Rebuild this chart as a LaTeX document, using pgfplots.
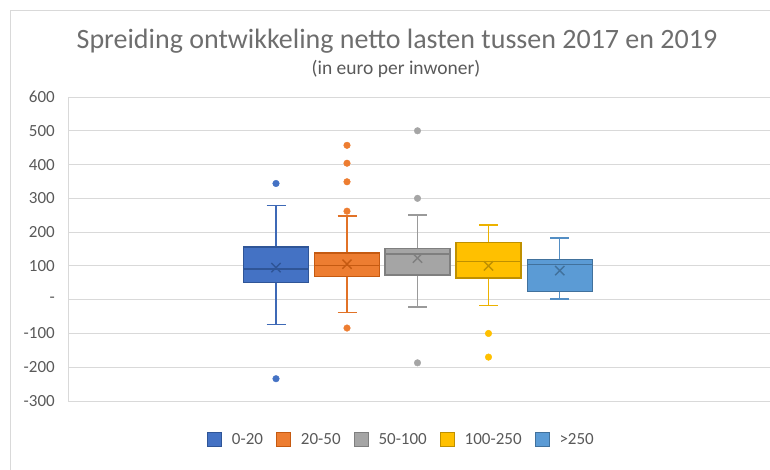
\documentclass[border=0pt]{standalone}
\usepackage{pgfplots}
\pgfplotsset{compat=1.18}
\usepgfplotslibrary{statistics}
\usepackage{fontspec}
\setmainfont{Carlito}
\definecolor{cA}{HTML}{4472C4}
\definecolor{cAd}{HTML}{2F5597}
\definecolor{cB}{HTML}{ED7D31}
\definecolor{cBd}{HTML}{C55A11}
\definecolor{cC}{HTML}{A5A5A5}
\definecolor{cCd}{HTML}{7F7F7F}
\definecolor{cD}{HTML}{FFC000}
\definecolor{cDd}{HTML}{BF9000}
\definecolor{cE}{HTML}{5B9BD5}
\definecolor{cEd}{HTML}{41719C}
\definecolor{gridc}{HTML}{D9D9D9}
\definecolor{txt}{HTML}{595959}
\definecolor{ttl}{HTML}{6E6E6E}
\pgfplotsset{
  mybox/.style n args={2}{
    color=#1,
    boxplot/draw direction=y,
    boxplot/box extend=65,
    boxplot/whisker extend=19,
    boxplot/every box/.style={draw=#2, fill=#1, line width=1.3pt},
    boxplot/every median/.style={draw=#2, line width=1.3pt},
    boxplot/every whisker/.style={draw=#1!70!#2, line width=1.3pt},
    mark=*, mark size=3.3pt, mark options={draw=#1, fill=#1, solid, line width=0.4pt},
    legend image code/.code={\draw[draw=#2, fill=#1, line width=0.9pt] (0pt,-7pt) rectangle (14pt,7pt);},
  },
  mymean/.style={forget plot, only marks, mark=x, mark size=6.5pt, mark options={draw=#1, solid, line width=1.4pt}},
}
\begin{document}
\begin{tikzpicture}
\useasboundingbox (0,0) rectangle (770pt,-470pt);
\draw[gridc, line width=1pt] (10pt,-470pt) -- (10pt,-11pt) -- (770pt,-11pt);
\node[font=\fontsize{28}{30}\selectfont, text=ttl, anchor=base] at (397pt,-49pt) {Spreiding ontwikkeling netto lasten tussen 2017 en 2019};
\node[font=\fontsize{19.5}{21}\selectfont, text=txt, anchor=base] at (396pt,-75pt) {(in euro per inwoner)};
\begin{axis}[
  at={(68pt,-401pt)}, anchor=south west,
  scale only axis, width=702pt, height=304pt,
  xmin=68, xmax=770, ymin=-300, ymax=600,
  xtick=\empty,
  ytick={-300,-200,-100,0,100,200,300,400,500,600},
  yticklabels={-300,-200,-100,-,100,200,300,400,500,600},
  ymajorgrids, grid style={gridc, line width=1pt},
  axis x line=none, axis y line*=left,
  y axis line style={gridc, line width=1pt, -},
  major tick length=0pt,
  yticklabel style={font=\fontsize{17}{17}\selectfont, text=txt, anchor=east, inner sep=0pt, xshift=-13pt},
  legend columns=5,
  legend style={at={(0.475,-0.128)}, anchor=center, draw=none, fill=none,
    font=\fontsize{17}{20}\selectfont, text=txt,
    /tikz/every odd column/.append style={column sep=8pt},
    /tikz/every even column/.append style={column sep=11pt}},
  clip=false,
]
\addplot[mybox={cA}{cAd}, boxplot prepared={draw position=276, lower whisker=-74, lower quartile=51, median=91, upper quartile=156, upper whisker=278}]
  table[row sep=\\, y index=0] {v\\ 344\\ -234\\};
\addlegendentry{0-20}
\addplot[mymean=cAd] coordinates {(276,95)};
\addplot[mybox={cB}{cBd}, boxplot prepared={draw position=347, lower whisker=-39, lower quartile=69.5, median=101, upper quartile=138, upper whisker=248}]
  table[row sep=\\, y index=0] {v\\ 457\\ 404\\ 349\\ 262\\ -84\\};
\addlegendentry{20-50}
\addplot[mymean=cBd] coordinates {(347,105)};
\addplot[mybox={cC}{cCd}, boxplot prepared={draw position=417.5, lower whisker=-22, lower quartile=73, median=135, upper quartile=152, upper whisker=251}]
  table[row sep=\\, y index=0] {v\\ 500\\ 300\\ -187\\};
\addlegendentry{50-100}
\addplot[mymean=cCd] coordinates {(417.5,123)};
\addplot[mybox={cD}{cDd}, boxplot prepared={draw position=488.5, lower whisker=-17.5, lower quartile=64.5, median=113, upper quartile=169, upper whisker=221}]
  table[row sep=\\, y index=0] {v\\ -100\\ -170\\};
\addlegendentry{100-250}
\addplot[mymean=cDd] coordinates {(488.5,100)};
\addplot[mybox={cE}{cEd}, boxplot prepared={draw position=559.7, lower whisker=2, lower quartile=24, median=105, upper quartile=118, upper whisker=183}]
  table[row sep=\\, y index=0] {v\\};
\addlegendentry{>250}
\addplot[mymean=cEd] coordinates {(559.7,86)};
\end{axis}
\end{tikzpicture}
\end{document}
